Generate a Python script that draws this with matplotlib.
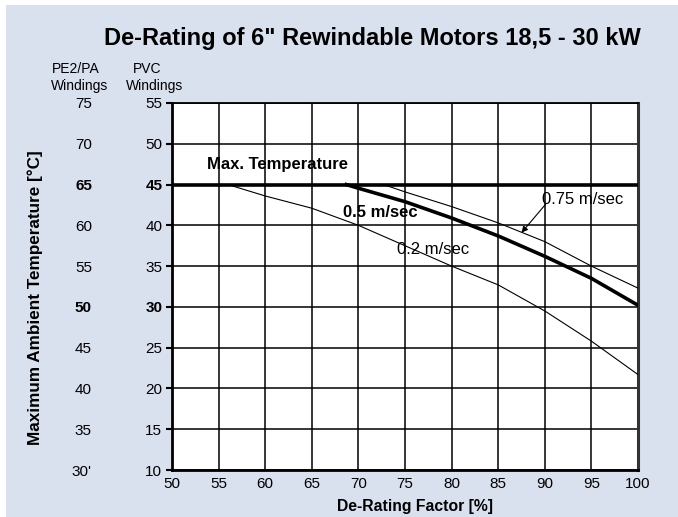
import matplotlib
matplotlib.use("Agg")
import matplotlib.pyplot as plt
from matplotlib.patches import Rectangle

plt.rcParams['font.family'] = ['Liberation Sans', 'DejaVu Sans']

# ---- data ----
title = 'De-Rating of 6" Rewindable Motors 18,5 - 30 kW'
xlabel = 'De-Rating Factor [%]'
ylabel = 'Maximum Ambient Temperature [°C]'

x_ticks = [50, 55, 60, 65, 70, 75, 80, 85, 90, 95, 100]
pvc_ticks = [10, 15, 20, 25, 30, 35, 40, 45, 50, 55]
pvc_labels = ['10', '15', '20', '25', '30', '35', '40', '45', '50', '55']
pe_labels = ["30'", '35', '40', '45', '50', '55', '60', '65', '70', '75']
bold_ticks = [30, 45]

max_temp = 45
max_x = [50, 100]

v02_x = [56.0, 60, 65, 70, 75, 80, 85, 90, 95, 100]
v02_y = [45.0, 43.6, 42.1, 40.0, 37.5, 35.0, 32.7, 29.5, 25.8, 21.7]

v05_x = [68.7, 70, 75, 80, 85, 90, 95, 100]
v05_y = [45.0, 44.55, 42.9, 40.9, 38.7, 36.2, 33.5, 30.2]

v075_x = [72.7, 75, 80, 85, 90, 95, 100]
v075_y = [45.0, 44.1, 42.3, 40.3, 38.0, 35.0, 32.3]

# ---- figure ----
W, H = 678, 517
fig = plt.figure(figsize=(W / 100, H / 100), dpi=100)
fig.patch.set_facecolor('white')
bg = '#D9E0EE'
fig.patches.append(Rectangle((6 / W, 0), 1 - 6 / W, (H - 5) / H,
                             transform=fig.transFigure, facecolor=bg,
                             edgecolor='none', zorder=-10))

ax = fig.add_axes([172 / W, (H - 470) / H, (638 - 172) / W, (470 - 103) / H])
ax.set_zorder(1)
ax.set_facecolor('white')
ax.set_xlim(50, 100)
ax.set_ylim(10, 55)

ax.set_xticks(x_ticks)
ax.set_yticks(pvc_ticks, pvc_labels)
ax.tick_params(axis='x', length=0, pad=5, labelsize=11)
ax.tick_params(axis='y', length=4, width=1.5, pad=3, labelsize=11)
for lab, v in zip(ax.get_yticklabels(), pvc_ticks):
    if v in bold_ticks:
        lab.set_fontweight('bold')
ax.grid(True, color='black', linewidth=1.1)
ax.set_axisbelow(True)

for side in ['left', 'bottom']:
    ax.spines[side].set_linewidth(2.0)
    ax.spines[side].set_color('black')
ax.spines['top'].set_linewidth(1.3)
ax.spines['right'].set_linewidth(2.2)
ax.spines['right'].set_color('#333333')

# secondary (PE2/PA) scale
sec = ax.secondary_yaxis(-0.163, functions=(lambda y: y + 20, lambda y: y - 20))
sec.set_yticks([v + 20 for v in pvc_ticks], pe_labels)
sec.tick_params(length=0, pad=3, labelsize=11)
sec.spines['left'].set_visible(False)
for lab, v in zip(sec.get_yticklabels(), pvc_ticks):
    if v in bold_ticks:
        lab.set_fontweight('bold')

# curves
ax.plot(max_x, [max_temp, max_temp], color='black', linewidth=2.6, zorder=3)
ax.plot(v02_x, v02_y, color='black', linewidth=0.8, zorder=3)
ax.plot(v05_x, v05_y, color='black', linewidth=2.6, zorder=3)
ax.plot(v075_x, v075_y, color='black', linewidth=0.8, zorder=3)

# annotations
ax.text(53.75, 47.4, 'Max. Temperature', fontsize=12, fontweight='bold', va='center', ha='left', zorder=4)
ax.text(68.4, 41.6, '0.5 m/sec', fontsize=12, fontweight='bold', va='center', ha='left', zorder=4)
ax.text(74.1, 37.0, '0.2 m/sec', fontsize=12, va='center', ha='left', zorder=4)
ax.text(89.7, 43.2, '0.75 m/sec', fontsize=12, va='center', ha='left', zorder=4)
ax.annotate('', xy=(87.5, 39.1), xytext=(90.1, 42.6),
            arrowprops=dict(arrowstyle='-|>', color='black', lw=0.8,
                            mutation_scale=9, shrinkA=0, shrinkB=0), zorder=4)

# titles and labels
fig.text(372 / W, 1 - 38 / H, title, fontsize=17, fontweight='bold', ha='center', va='center')
fig.text(415 / W, 1 - 507 / H, xlabel, fontsize=11.3, fontweight='bold', ha='center', va='center')
fig.text(35 / W, 1 - 298 / H, ylabel, fontsize=12.3, fontweight='bold', ha='center', va='center', rotation=90)
fig.text(76 / W, 1 - 69 / H, 'PE2/PA', fontsize=10, ha='center', va='center')
fig.text(80 / W, 1 - 86 / H, 'Windings', fontsize=10, ha='center', va='center')
fig.text(147 / W, 1 - 69 / H, 'PVC', fontsize=10, ha='center', va='center')
fig.text(155 / W, 1 - 86 / H, 'Windings', fontsize=10, ha='center', va='center')

fig.savefig('out.png', dpi=100, facecolor=fig.get_facecolor())
